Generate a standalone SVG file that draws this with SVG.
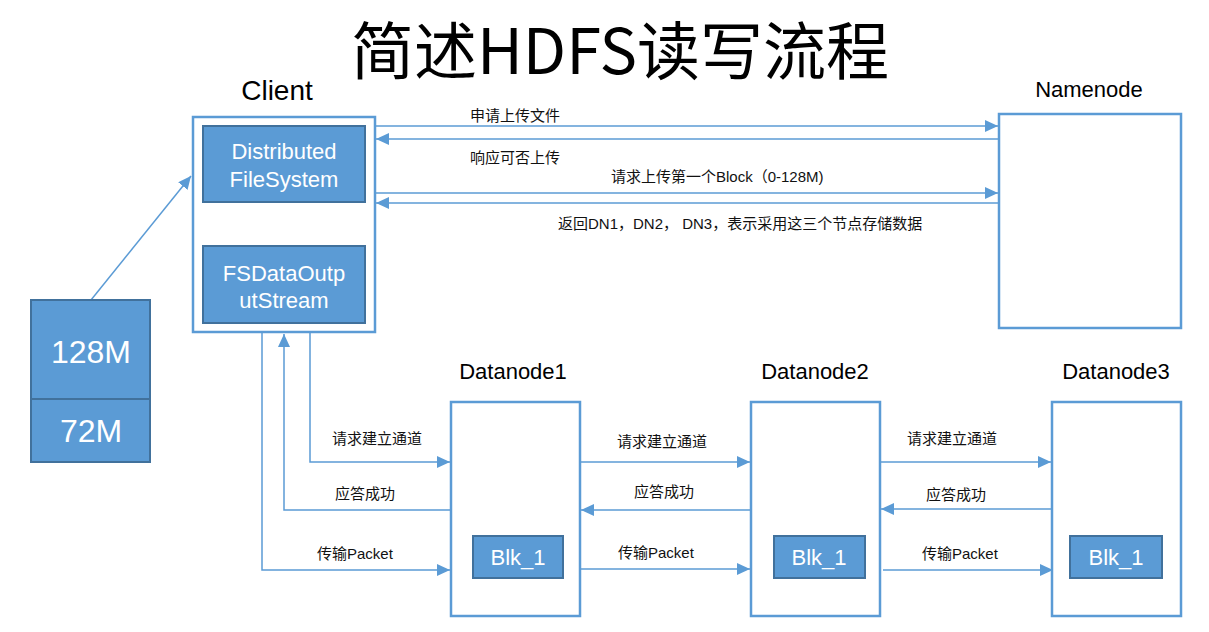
<svg xmlns="http://www.w3.org/2000/svg" width="1209" height="632" viewBox="0 0 1209 632">
<style>
text{font-family:"Liberation Sans","Noto Sans CJK SC",sans-serif;dominant-baseline:central}
.title{font-size:63px;fill:#000;text-anchor:middle}
.hd{font-size:22px;fill:#000;text-anchor:middle}
.lbl{font-size:15px;fill:#111}
.in{fill:#fff;text-anchor:middle}
.frame{fill:#fff;stroke:#5B9BD5;stroke-width:2.5}
.solid{fill:#5B9BD5;stroke:#41719C;stroke-width:2}
.cn{fill:none;stroke:#5B9BD5;stroke-width:1.5}
</style>
<defs>
<marker id="ah" markerUnits="userSpaceOnUse" markerWidth="14" markerHeight="12" refX="13" refY="6" orient="auto">
<path d="M0,0 L13,6 L0,12 z" fill="#5B9BD5"/>
</marker>
</defs>
<rect width="1209" height="632" fill="#fff"/>
<text class="title" x="620" y="46" style="font-family:'Noto Sans CJK SC',sans-serif">简述HDFS读写流程</text>

<g id="connectors">
<path class="cn" d="M91,300 L191,176" marker-end="url(#ah)"/>
<path class="cn" d="M284,202 L284,245" marker-end="url(#ah)"/>
<path class="cn" d="M375,126 L998,126" marker-end="url(#ah)"/>
<path class="cn" d="M999,139 L376,139" marker-end="url(#ah)"/>
<path class="cn" d="M375,193 L998,193" marker-end="url(#ah)"/>
<path class="cn" d="M999,203 L376,203" marker-end="url(#ah)"/>
<path class="cn" d="M310,333 L310,462 L450,462" marker-end="url(#ah)"/>
<path class="cn" d="M451,510 L284,510 L284,334" marker-end="url(#ah)"/>
<path class="cn" d="M262,333 L262,570 L450,570" marker-end="url(#ah)"/>
<path class="cn" d="M580,462 L750,462" marker-end="url(#ah)"/>
<path class="cn" d="M751,510 L581,510" marker-end="url(#ah)"/>
<path class="cn" d="M580,569 L750,569" marker-end="url(#ah)"/>
<path class="cn" d="M880,462 L1051,462" marker-end="url(#ah)"/>
<path class="cn" d="M1052,509 L881,509" marker-end="url(#ah)"/>
<path class="cn" d="M883,570 L1053,570" marker-end="url(#ah)"/>
</g>

<g id="edge-labels">
<text class="lbl" x="470" y="115">申请上传文件</text>
<text class="lbl" x="470" y="157">响应可否上传</text>
<text class="lbl" x="611" y="176">请求上传第一个Block（0-128M)</text>
<text class="lbl" x="558" y="223">返回DN1，DN2， DN3，表示采用这三个节点存储数据</text>
<text class="lbl" x="302" y="222">open</text>
<text class="lbl" x="332" y="438">请求建立通道</text>
<text class="lbl" x="335" y="493">应答成功</text>
<text class="lbl" x="317" y="553">传输Packet</text>
<text class="lbl" x="617" y="441">请求建立通道</text>
<text class="lbl" x="634" y="491">应答成功</text>
<text class="lbl" x="618" y="552">传输Packet</text>
<text class="lbl" x="907" y="438">请求建立通道</text>
<text class="lbl" x="926" y="494">应答成功</text>
<text class="lbl" x="922" y="553">传输Packet</text>
</g>

<g id="file">
<rect class="solid" x="31" y="300" width="119" height="162"/>
<line x1="31" y1="399" x2="150" y2="399" stroke="#41719C" stroke-width="2"/>
<text class="in" x="91" y="352" font-size="32">128M</text>
<text class="in" x="91" y="431" font-size="32">72M</text>
</g>

<g id="client">
<text class="hd" x="277" y="90" style="font-size:28px">Client</text>
<rect class="frame" x="193" y="117" width="182" height="215"/>
</g>
<g id="dfs">
<rect class="solid" x="203" y="126" width="162" height="76"/>
<text class="in" x="284" y="151" font-size="22">Distributed</text>
<text class="in" x="284" y="179" font-size="22">FileSystem</text>
</g>
<g id="fsdos">
<rect class="solid" x="203" y="246" width="162" height="77"/>
<text class="in" x="284" y="273" font-size="22">FSDataOutp</text>
<text class="in" x="284" y="300" font-size="22">utStream</text>
</g>

<g id="namenode">
<text class="hd" x="1089" y="89">Namenode</text>
<rect class="frame" x="999" y="114" width="182" height="214"/>
</g>

<g id="datanode1">
<text class="hd" x="513" y="371">Datanode1</text>
<rect class="frame" x="451" y="402" width="129" height="214"/>
<rect class="solid" x="473" y="536" width="90" height="42"/>
<text class="in" x="518" y="557" font-size="22">Blk_1</text>
</g>
<g id="datanode2">
<text class="hd" x="815" y="371">Datanode2</text>
<rect class="frame" x="751" y="402" width="129" height="214"/>
<rect class="solid" x="774" y="536" width="91" height="42"/>
<text class="in" x="819" y="557" font-size="22">Blk_1</text>
</g>
<g id="datanode3">
<text class="hd" x="1116" y="371">Datanode3</text>
<rect class="frame" x="1052" y="402" width="129" height="214"/>
<rect class="solid" x="1070" y="536" width="92" height="42"/>
<text class="in" x="1116" y="557" font-size="22">Blk_1</text>
</g>
</svg>
